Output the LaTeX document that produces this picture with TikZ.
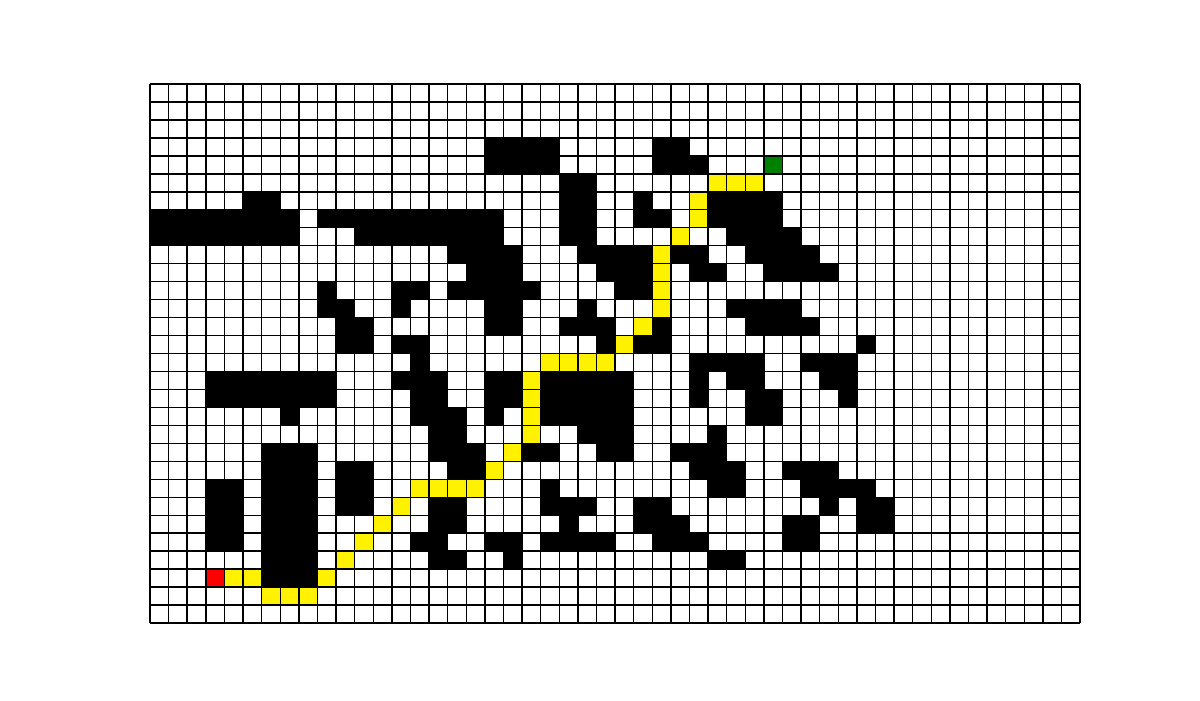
\documentclass[tikz,border=0pt]{standalone}
\definecolor{goalgreen}{RGB}{0,128,0}

\begin{document}
\begin{tikzpicture}[x=0.186cm, y=-0.17967cm,
        wall/.style={fill=black},
        route/.style={fill=yellow},
        startcell/.style={fill=red},
        goalcell/.style={fill=goalgreen}]
    \path[fill=white] (-1.5cm,0.84cm) rectangle (10.5cm,-6.16cm);

    % obstacles: row/first column/last column
    \foreach \r/\a/\b in {
            3/18/21, 3/27/28,
            4/18/21, 4/27/29,
            5/22/23,
            6/5/6, 6/22/23, 6/26/26, 6/30/33,
            7/0/7, 7/9/18, 7/22/23, 7/26/27, 7/30/33,
            8/0/7, 8/11/18, 8/22/23, 8/31/34,
            9/16/19, 9/23/26, 9/28/29, 9/32/35,
            10/17/19, 10/24/26, 10/29/30, 10/33/36,
            11/9/9, 11/13/14, 11/16/20, 11/25/26,
            12/9/10, 12/13/13, 12/18/19, 12/23/23, 12/31/34,
            13/10/11, 13/18/19, 13/22/24, 13/27/27, 13/32/35,
            14/10/11, 14/13/14, 14/24/24, 14/26/27, 14/38/38,
            15/14/14, 15/29/32, 15/35/37,
            16/3/9, 16/13/15, 16/18/19, 16/21/25, 16/29/29, 16/31/32, 16/36/37,
            17/3/9, 17/14/15, 17/18/19, 17/21/25, 17/29/29, 17/32/33, 17/37/37,
            18/7/7, 18/14/16, 18/18/18, 18/21/25, 18/32/33,
            19/15/16, 19/23/25, 19/30/30,
            20/6/8, 20/15/17, 20/20/21, 20/24/25, 20/28/30,
            21/6/8, 21/10/11, 21/16/17, 21/29/31, 21/34/36,
            22/3/4, 22/6/8, 22/10/11, 22/21/21, 22/30/31, 22/35/38,
            23/3/4, 23/6/8, 23/10/11, 23/15/16, 23/21/23, 23/26/27, 23/36/36, 23/38/39,
            24/3/4, 24/6/8, 24/15/16, 24/22/22, 24/26/28, 24/34/35, 24/38/39,
            25/3/4, 25/6/8, 25/14/15, 25/18/19, 25/21/24, 25/27/29, 25/34/35,
            26/6/8, 26/15/16, 26/19/19, 26/30/31,
            27/6/8}
        \path[wall] (\a,\r) rectangle (\b+1,\r+1);

    % found path
    \foreach \r/\a/\b in {
            5/30/32, 6/29/29, 7/29/29, 8/28/28,
            9/27/27, 10/27/27, 11/27/27, 12/27/27, 13/26/26, 14/25/25,
            15/21/24, 16/20/20, 17/20/20, 18/20/20, 19/20/20,
            20/19/19, 21/18/18, 22/14/17, 23/13/13, 24/12/12,
            25/11/11, 26/10/10, 27/4/5, 27/9/9, 28/6/8}
        \path[route] (\a,\r) rectangle (\b+1,\r+1);

    \path[startcell] (3,27) rectangle ++(1,1);
    \path[goalcell] (33,4) rectangle ++(1,1);

    \foreach \c in {0,...,50}
        \draw[line width=0.4pt] (\c,0) -- (\c,30);
    \foreach \r in {0,...,30}
        \draw[line width=0.4pt] (0,\r) -- (50,\r);
\end{tikzpicture}
\end{document}
